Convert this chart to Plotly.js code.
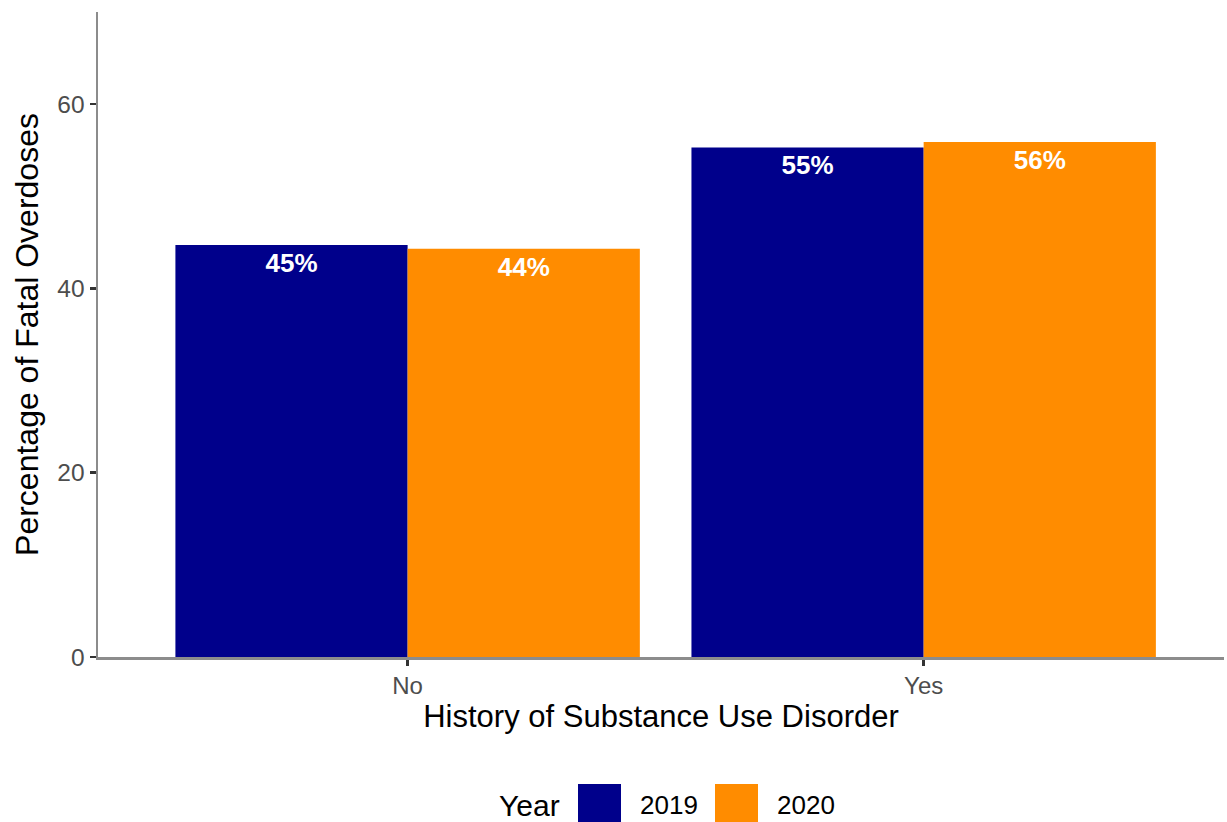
<!DOCTYPE html>
<html>
<head>
<meta charset="utf-8">
<script src="https://cdn.plot.ly/plotly-3.0.1.min.js"></script>
<style>
html,body{margin:0;padding:0;background:#fff;overflow:hidden;}
#chart{width:1227px;height:822px;}
</style>
</head>
<body>
<div id="chart"></div>
<script>
// ---- data ----
const categories = ["No", "Yes"];
const years = ["2019", "2020"];
const values2019 = [44.7, 55.3];
const values2020 = [44.3, 55.9];
const seriesColors = ["#00008B", "#FF8C00"];
const yTickValues = [0, 20, 40, 60];
const xAxisTitle = "History of Substance Use Disorder";
const yAxisTitle = "Percentage of Fatal Overdoses";
const legendTitle = "Year";

const FONT = "Liberation Sans, Arial, Helvetica, sans-serif";
const seriesValues = [values2019, values2020];

const traces = years.map((yr, i) => ({
  type: "bar",
  name: yr,
  x: categories,
  y: seriesValues[i],
  marker: { color: seriesColors[i], line: { width: 0 } },
  texttemplate: "%{y:.0f}%",
  textposition: "inside",
  insidetextanchor: "end",
  textangle: 0,
  constraintext: "none",
  textfont: { family: FONT, size: 26, color: "#FFFFFF", weight: "bold" },
  hoverinfo: "skip",
  showlegend: false
}));

// plot-area geometry (pixels) used for the hand-built legend
const W = 1227, H = 822;
const M = { l: 98, r: 3, t: 12, b: 165 };
const plotW = W - M.l - M.r, plotH = H - M.t - M.b;
const px2x = px => (px - M.l) / plotW;
const py2y = py => (H - M.b - py) / plotH;

const shapes = [];
const annotations = [];
annotations.push({
  xref: "paper", yref: "paper", x: px2x(497), y: py2y(805),
  xanchor: "left", yanchor: "middle", showarrow: false,
  text: legendTitle, font: { family: FONT, size: 30, color: "#000000" }
});
const legendStart = [578, 715];
years.forEach((yr, i) => {
  const x0 = legendStart[i];
  shapes.push({
    type: "rect", xref: "paper", yref: "paper",
    x0: px2x(x0), x1: px2x(x0 + 43), y0: py2y(784), y1: py2y(827),
    fillcolor: seriesColors[i], line: { width: 0 }, layer: "above"
  });
  annotations.push({
    xref: "paper", yref: "paper", x: px2x(x0 + 60), y: py2y(805),
    xanchor: "left", yanchor: "middle", showarrow: false,
    text: yr, font: { family: FONT, size: 26, color: "#000000" }
  });
});

const layout = {
  width: W, height: H,
  margin: M,
  paper_bgcolor: "#FFFFFF",
  plot_bgcolor: "#FFFFFF",
  barmode: "group",
  bargap: 0.1,
  bargroupgap: 0,
  showlegend: false,
  font: { family: FONT },
  xaxis: {
    type: "category",
    range: [-0.6, 1.582],
    showgrid: false, zeroline: false,
    showline: true, linecolor: "#8C8C8C", linewidth: 2.5,
    ticks: "outside", ticklen: 6, tickwidth: 2.5, tickcolor: "#333333",
    tickfont: { family: FONT, size: 24, color: "#4D4D4D" },
    title: { text: xAxisTitle, font: { family: FONT, size: 31, color: "#000000" }, standoff: 7 },
    automargin: false, fixedrange: true
  },
  yaxis: {
    range: [0, 70],
    tickvals: yTickValues,
    showgrid: false, zeroline: false,
    showline: true, linecolor: "#8C8C8C", linewidth: 2.5,
    ticks: "outside", ticklen: 6, tickwidth: 2.5, tickcolor: "#333333",
    tickfont: { family: FONT, size: 24.5, color: "#4D4D4D" },
    title: { text: yAxisTitle, font: { family: FONT, size: 32, color: "#000000" }, standoff: 9 },
    automargin: false, fixedrange: true
  },
  shapes: shapes,
  annotations: annotations
};

Plotly.newPlot("chart", traces, layout, { staticPlot: true, displayModeBar: false });
</script>
</body>
</html>
